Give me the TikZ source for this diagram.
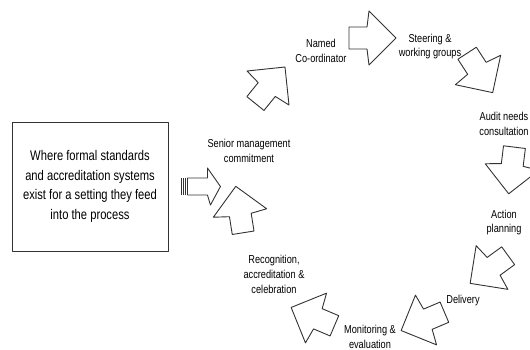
\documentclass[tikz,border=0pt]{standalone}
\usepackage{fontspec}
\newfontfamily\narrowfont[FakeStretch=0.8]{Liberation Sans}
\usepackage{tikz}
\usetikzlibrary{calc}
\usetikzlibrary{positioning}
\tikzset{>=latex}
\tikzstyle{stage} = [align=center, inner sep=0pt, font=\narrowfont\fontsize{11.5}{14.8}\selectfont]
\tikzstyle{outline} = [draw=black!80, line width=0.9pt, line join=round]
\tikzset{
  cyclearrow/.pic = {
    \draw [outline, rotate=#1] (27,0) -- (0,27) -- (-2,11) -- (-20,11) -- (-20,-11) -- (-2,-11) -- (0,-27) -- cycle;
  }
}

\begin{document}
\begin{tikzpicture}[x=1pt, y=-1pt]
\useasboundingbox (0,0) rectangle (530,350);
\node [outline, rectangle, minimum width=156pt, minimum height=129pt, inner sep=0pt, align=center,
       font=\narrowfont\fontsize{14}{19.7}\selectfont] (src) at (90,186.5)
  {Where formal standards\\and accreditation systems\\exist for a setting they feed\\into the process};
\node [stage] (senior) at (249,150.5) {Senior management\\commitment};
\node [stage] (named) at (321,51) {Named\\Co-ordinator};
\node [stage] (steer) at (430,46.5) {Steering \&\\working groups};
\node [stage] (audit) at (504,124) {Audit needs\\consultation};
\node [stage] (action) at (504,222.5) {Action\\planning};
\node [stage] (deliv) at (463,300.5) {Delivery};
\node [stage] (monit) at (370,336.5) {Monitoring \&\\evaluation};
\node [stage] (recog) at (274,274.5) {Recognition,\\accreditation \&\\celebration};
% arrows round the cycle
\pic at (268,88) {cyclearrow=51};
\pic at (369,38) {cyclearrow=0};
\pic at (478,70) {cyclearrow=-57};
\pic at (512,167) {cyclearrow=-97};
\pic at (492,267.5) {cyclearrow=216};
\pic at (426,320) {cyclearrow=203};
\pic at (316,318) {cyclearrow=157};
\pic at (240,213) {cyclearrow=99};
% striped feed arrow
\coordinate (feed) at ($(src.east)+(12,0)$);
\draw [outline] ($(feed)+(7,-8.5)$) -- ($(feed)+(27,-8.5)$) -- ($(feed)+(27,-18.5)$) -- ($(feed)+(40,0)$)
  -- ($(feed)+(30,18.5)$) -- ($(feed)+(27,8.5)$) -- ($(feed)+(7,8.5)$) -- cycle;
\foreach \s in {0.5,2.5,4.5}
  \draw [draw=black!80, line width=0.9pt] ($(feed)+(\s,-8.5)$) -- ($(feed)+(\s,8.5)$);
\end{tikzpicture}
\end{document}
